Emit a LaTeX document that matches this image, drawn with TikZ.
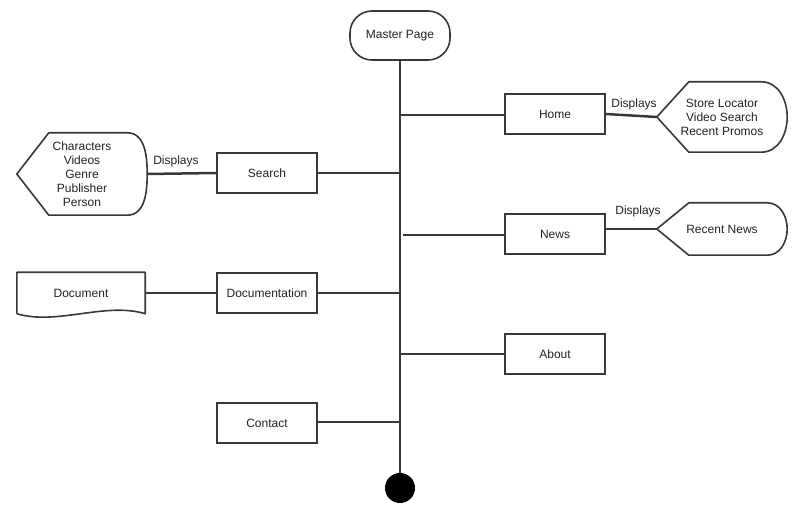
\documentclass[tikz,border=0pt]{standalone}
\usepackage{fontspec}
\setmainfont{Liberation Sans}
\usetikzlibrary{calc}
\definecolor{lc}{HTML}{383838}
\definecolor{tc}{HTML}{222222}
\tikzset{%
    pag/.style={rectangle, draw=lc, line width=1.6pt, minimum width=100pt, minimum height=40pt, inner sep=0pt},
    mst/.style={rectangle, rounded corners=22pt, draw=lc, line width=1.6pt, minimum width=100pt, minimum height=49pt},
    dis/.style={rectangle, align=center, minimum width=130pt, inner sep=0pt},
    doc/.style={rectangle, minimum width=128pt, minimum height=41pt, inner sep=0pt},
    pri/.style={line width=2.5pt, draw=lc},
    sec/.style={line width=1.6pt, draw=lc, line join=round},
    lbl/.style={inner sep=0pt},
}
\begin{document}
\begin{tikzpicture}[x=1pt, y=-1pt, text=tc, font=\fontsize{12}{14}\selectfont]
    \useasboundingbox (0,0) rectangle (797,510);
    \node[mst] (ms) at (400,35.5) {Master Page};
    \node[circle, fill=black, minimum size=30pt, inner sep=0pt] (end) at (400,488) {};
    \node[pag] (hm) at (555,114) {Home};
    \node[pag] (sr) at (267,173) {Search};
    \node[pag] (nw) at (555,234) {News};
    \node[pag] (dm) at (267,293) {Documentation};
    \node[pag] (ab) at (555,354) {About};
    \node[pag] (ct) at (267,423) {Contact};
    \node[dis, minimum height=70pt] (hd) at (722,117) {Store Locator\\Video Search\\Recent Promos};
    \node[dis, minimum height=82pt] (sd) at (82,174) {Characters\\Videos\\Genre\\Publisher\\Person};
    \node[dis, minimum height=52pt] (nd) at (722,229) {Recent News};
    \node[doc] (dc) at (81,293) {Document};
    \node[lbl] (l1) at (634,104) {Displays};
    \node[lbl] (l2) at (176,161) {Displays};
    \node[lbl] (l3) at (638,211) {Displays};
    % spine and branches
    \coordinate (jh) at (400,115);
    \coordinate (js) at (400,173);
    \coordinate (jn) at (403,235);
    \coordinate (jd) at (400,293);
    \coordinate (ja) at (400,354);
    \coordinate (jc) at (400,422);
    \draw[pri] (ms.south) -- (end.north);
    \draw[pri] (jh) -- (jh -| hm.west);
    \draw[pri] (js) -- (js -| sr.east);
    \draw[pri] (jn) -- (jn -| nw.west);
    \draw[pri] (jd) -- (jd -| dm.east);
    \draw[pri] (ja) -- (ja -| ab.west);
    \draw[pri] (jc) -- (jc -| ct.east);
    \draw[pri] (hm.east) -- (hd.west);
    \draw[pri] (sd.east) -- (sr.west);
    \draw[pri] (nw.east |- nd.west) -- (nd.west);
    \draw[pri] (dc.east) -- (dm.west);
    % display outlines
    \foreach \n/\r in {sd/20, hd/26, nd/20}
        \draw[sec] (\n.west) -- ($(\n.north west)+(32,0)$) -- ($(\n.north east)-(\r,0)$)
            to[out=0,in=90] (\n.east) to[out=-90,in=0] ($(\n.south east)-(\r,0)$)
            -- ($(\n.south west)+(32,0)$) -- cycle;
    % document outline
    \draw[sec] (dc.south west) -- (dc.north west) -- (dc.north east) -- (dc.south east)
        .. controls +(-40,-12) and +(40,12) .. (dc.south west);
\end{tikzpicture}
\end{document}
